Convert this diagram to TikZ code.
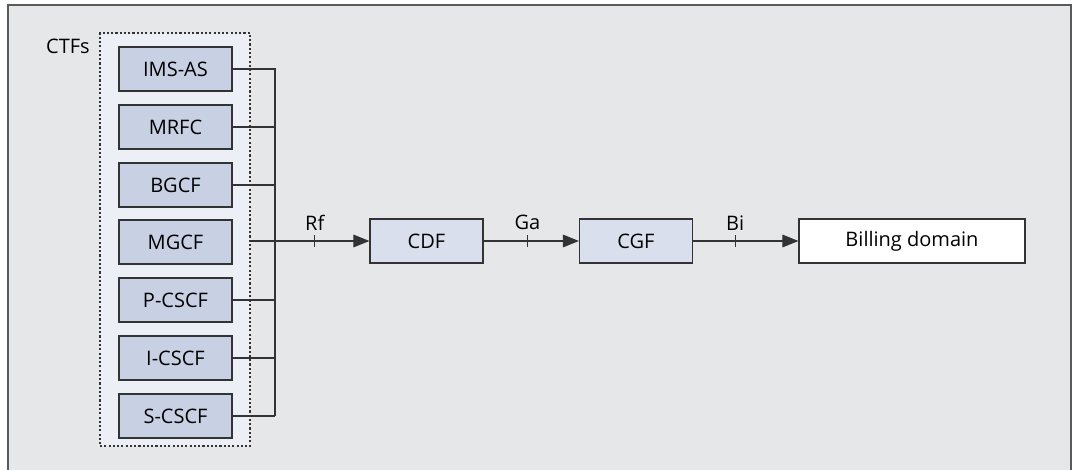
\documentclass[tikz,border=0pt]{standalone}
\usepackage{fontspec}
\setmainfont{Open Sans}
\usetikzlibrary{arrows.meta,fit,positioning}
\definecolor{bgc}{HTML}{E6E7E9}
\definecolor{framec}{HTML}{5A5A5A}
\definecolor{linec}{HTML}{333333}
\definecolor{grpc}{HTML}{ECEFF6}
\definecolor{ctfc}{HTML}{C8D0E3}
\definecolor{cdfc}{HTML}{D9DFED}
\newcommand{\dfont}{\fontsize{15pt}{17pt}\selectfont}
\tikzset{
  ctfbox/.style={draw=linec, line width=0.9pt, fill=ctfc, minimum width=84.75pt, minimum height=33pt, inner sep=0pt, font=\dfont},
  midbox/.style={ctfbox, fill=cdfc},
  endbox/.style={ctfbox, fill=white, minimum width=169.5pt},
  conn/.style={draw=linec, line width=0.8pt},
  flow/.style={conn, -{Triangle[length=12pt,width=9.5pt]}},
  lbl/.style={font=\dfont, inner sep=1pt, anchor=south},
  grp/.style={draw=linec, line width=0.8pt, dash pattern=on 1.6pt off 1.6pt, fill=grpc, inner sep=0pt}
}
\begin{document}
\begin{tikzpicture}[x=0.75pt,y=-0.75pt]
\useasboundingbox (0,0) rectangle (1075,470);
\fill[bgc] (8,5) rectangle (1071,470);
\draw[framec, line width=1.1pt] (8,470) -- (8,5) -- (1071,5) -- (1071,470);
% group
\coordinate (gnw) at (100,33);
\coordinate (gse) at (250,446);
\node[grp, fit=(gnw)(gse)] (ctfs) {};
\node[font=\dfont, inner sep=0pt] (ctflbl) at (68,46) {CTFs};
% CTF boxes
\node[ctfbox] (imsas) at (175.5,69) {IMS-AS};
\node[ctfbox] (mrfc) at (175.5,127) {MRFC};
\node[ctfbox] (bgcf) at (175.5,185) {BGCF};
\node[ctfbox] (mgcf) at (175.5,242) {MGCF};
\node[ctfbox] (pcscf) at (175.5,300) {P-CSCF};
\node[ctfbox] (icscf) at (175.5,358) {I-CSCF};
\node[ctfbox] (scscf) at (175.5,416) {S-CSCF};
% chain
\node[midbox] (cdf) at (426.5,241) {CDF};
\node[midbox] (cgf) at (636,241) {CGF};
\node[endbox] (bill) at (912,241) {Billing domain};
% bus
\coordinate (bustop) at (275,69);
\coordinate (busbot) at (275,416);
\draw[conn] (imsas.east) -| (busbot);
\draw[conn] (scscf.east) -- (scscf.east -| bustop);
\draw[conn] (mrfc.east) -- (mrfc.east -| bustop);
\draw[conn] (bgcf.east) -- (bgcf.east -| bustop);
\draw[conn] (pcscf.east) -- (pcscf.east -| bustop);
\draw[conn] (icscf.east) -- (icscf.east -| bustop);
% flows
\draw[flow] (ctfs.east |- cdf.west) -- coordinate[pos=0.54] (trf) (cdf.west);
\draw[flow] (cdf.east) -- coordinate[pos=0.46] (tga) (cgf.west);
\draw[flow] (cgf.east) -- coordinate[pos=0.40] (tbi) (bill.west);
\foreach \t/\l in {trf/Rf, tga/Ga, tbi/Bi}{
  \draw[conn] ([yshift=4.2pt]\t) -- ([yshift=-4.2pt]\t);
  \node[lbl] at ([yshift=7pt]\t) {\l};
}
\end{tikzpicture}
\end{document}
